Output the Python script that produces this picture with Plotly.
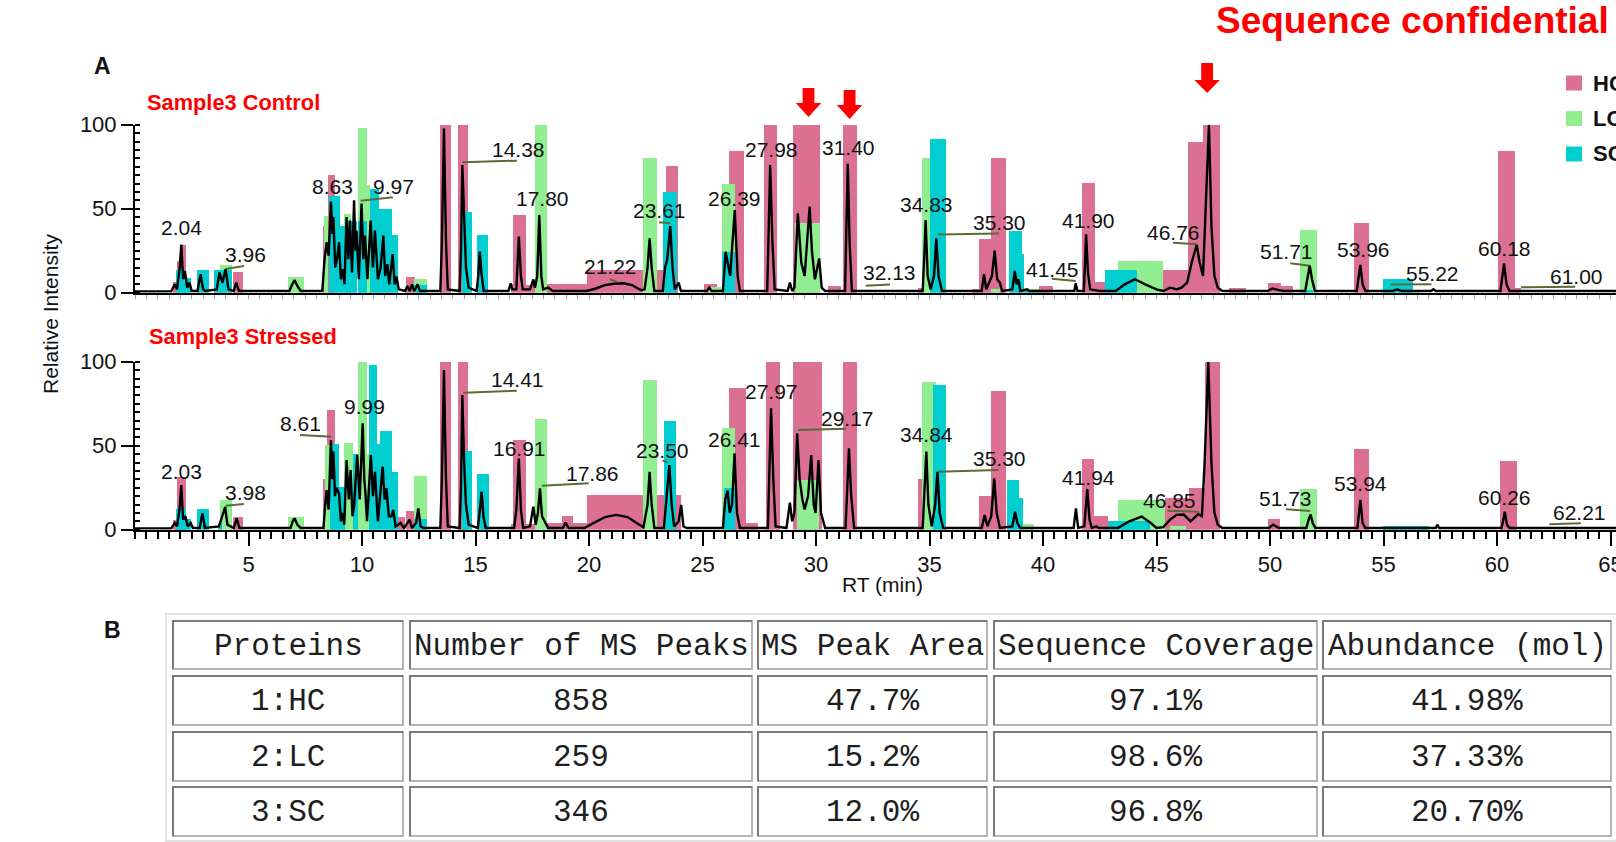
import plotly.graph_objects as go

# ---------------------------------------------------------------- data
# Bars: (start RT, end RT, relative intensity) per protein chain
HC_CONTROL = [(1.68, 1.87, 6.5), (1.87, 2.07, 19), (2.07, 2.26, 28.6), (4.31, 4.75, 12.6),
              (8.26, 8.40, 40), (8.50, 8.82, 70.5), (11.92, 12.35, 9.5), (13.43, 13.90, 100),
              (14.22, 14.68, 100), (16.55, 16.66, 5.5), (16.66, 17.22, 46.2), (17.22, 17.62, 5),
              (18.13, 19.89, 5.6), (19.89, 22.40, 13.9), (22.99, 23.24, 13.9), (23.40, 23.93, 75.8),
              (25.08, 25.66, 5.6), (26.15, 26.81, 84.5), (27.69, 28.27, 100), (28.98, 30.19, 100),
              (30.55, 31.10, 4), (31.18, 31.79, 100), (34.50, 34.75, 3), (36.87, 37.19, 2.5),
              (37.19, 37.70, 32.4), (37.70, 38.37, 80.6), (39.84, 40.43, 4.1), (41.72, 42.29, 65.6),
              (42.29, 42.73, 6.6), (45.30, 46.40, 13.9), (46.40, 47.05, 89.9), (47.05, 47.78, 100),
              (48.20, 48.93, 3.2), (49.89, 50.47, 6.2), (50.47, 51.00, 4.2), (53.72, 54.36, 41.9),
              (60.05, 60.81, 84.5), (60.81, 61.05, 3)]
LC_CONTROL = [(3.76, 4.28, 16.9), (6.75, 7.43, 9.6), (8.33, 8.52, 46), (9.19, 9.50, 46.8),
              (9.84, 10.21, 98.5), (10.21, 10.37, 64), (12.30, 12.85, 8.2), (17.62, 18.13, 100),
              (22.40, 22.99, 80.6), (25.24, 25.86, 3.5), (25.86, 26.41, 65), (29.06, 30.19, 41.9),
              (34.67, 35.03, 80.6), (37.70, 38.10, 2.5), (39.16, 39.84, 2.6), (43.31, 45.30, 18.9),
              (51.30, 52.07, 37.7), (55.30, 56.60, 2)]
SC_CONTROL = [(1.79, 2.26, 13.9), (2.26, 2.47, 9.2), (2.75, 3.26, 13.9), (3.49, 4.28, 13.9),
              (8.53, 9.03, 58), (9.03, 9.24, 40), (9.24, 9.79, 43), (9.84, 10.21, 43),
              (10.37, 10.76, 62), (10.76, 11.31, 50.3), (11.31, 11.59, 34.8), (12.30, 12.85, 4.6),
              (14.42, 14.83, 48), (15.05, 15.53, 34.8), (23.24, 23.86, 60.1), (25.88, 26.41, 24.4),
              (35.03, 35.73, 91.9), (38.50, 39.06, 36.8), (39.06, 39.16, 23), (39.16, 39.84, 1.8),
              (42.73, 44.16, 13.9), (51.40, 51.90, 1.5), (54.96, 56.32, 8.2)]

HC_STRESSED = [(1.68, 1.87, 5.7), (1.87, 2.26, 31.5), (4.31, 4.75, 7.8), (8.27, 8.41, 30.2),
               (8.44, 8.82, 71.2), (11.60, 11.90, 7.7), (11.92, 12.29, 11.1), (13.43, 13.90, 100),
               (14.22, 14.68, 100), (16.55, 16.66, 3.8), (16.66, 17.22, 53.4), (17.22, 17.62, 3.8),
               (18.13, 18.79, 4.2), (18.79, 19.30, 8.4), (19.30, 19.89, 4.2), (19.89, 22.40, 21.0),
               (22.99, 24.05, 21.0), (26.15, 26.92, 84.7), (26.92, 27.44, 4.2), (27.81, 28.41, 100),
               (28.98, 30.27, 100), (31.18, 31.79, 100), (34.51, 34.67, 30.5), (37.19, 37.70, 20.2),
               (37.70, 38.37, 83), (41.70, 42.26, 42.3), (42.26, 42.88, 8.2), (45.37, 46.45, 19.3),
               (46.45, 47.14, 25.2), (47.14, 47.80, 100), (49.89, 50.44, 6.8), (53.72, 54.36, 48.4),
               (60.12, 60.86, 41.1)]
LC_STRESSED = [(3.76, 4.28, 17.7), (6.75, 7.43, 7.8), (8.38, 8.59, 50.4), (9.21, 9.62, 52),
               (9.84, 10.20, 100), (10.20, 10.31, 45.5), (12.29, 12.85, 32.1), (17.62, 18.13, 66.3),
               (22.40, 22.99, 89.1), (25.86, 26.41, 60.9), (29.17, 30.11, 29.5), (34.67, 35.27, 88.1),
               (39.13, 39.60, 3.8), (43.31, 45.37, 18.1), (45.60, 46.30, 2.5), (51.30, 52.07, 24.2)]
SC_STRESSED = [(1.79, 2.26, 12.7), (2.26, 2.47, 6.8), (2.75, 3.26, 12.7), (3.65, 3.84, 4.2),
               (8.59, 9.00, 51.4), (9.00, 9.25, 25.6), (9.62, 9.84, 45.5), (10.31, 10.67, 98.4),
               (10.67, 10.79, 51.4), (10.79, 11.31, 58.7), (11.31, 11.60, 34.5), (12.29, 12.85, 6.7),
               (14.42, 14.83, 47), (15.05, 15.61, 33.5), (23.32, 23.85, 64.9), (25.94, 26.41, 25.2),
               (35.14, 35.73, 86.1), (38.43, 38.93, 30), (38.93, 39.13, 19.3), (42.88, 44.71, 5.4),
               (54.96, 57.02, 2.2)]

# Chromatogram traces (RT, relative intensity)
CONTROL_RT = [0.0, 1.6, 1.75, 1.85, 1.97, 2.04, 2.12, 2.2, 2.3, 2.4, 2.5, 2.75, 2.89, 3.0, 3.1, 3.6,
              3.72, 3.85, 3.99, 4.12, 4.35, 4.46, 4.58, 6.8, 6.93, 7.03, 7.15, 7.3, 8.25, 8.35, 8.44,
              8.53, 8.63, 8.70, 8.74, 8.82, 8.9, 8.99, 9.07, 9.15, 9.23, 9.32, 9.40, 9.47, 9.56, 9.65,
              9.71, 9.76, 9.86, 9.98, 10.06, 10.13, 10.24, 10.38, 10.48, 10.57, 10.7, 10.82, 10.94,
              11.02, 11.12, 11.2, 11.35, 11.44, 11.52, 11.62, 11.9, 12.0, 12.1, 12.2, 12.3, 12.45,
              12.55, 13.45, 13.52, 13.61, 13.7, 13.78, 14.3, 14.36, 14.42, 14.5, 14.58, 14.7, 15.05,
              15.12, 15.19, 15.26, 15.36, 16.45, 16.55, 16.62, 16.8, 16.91, 17.0, 17.08, 17.4, 17.55,
              17.62, 17.72, 17.81, 17.9, 17.98, 18.2, 18.4, 19.9, 20.3, 20.7, 21.1, 21.5, 21.9, 22.3,
              22.45, 22.58, 22.67, 22.76, 22.88, 23.25, 23.35, 23.45, 23.58, 23.68, 23.78, 23.95,
              24.05, 25.2, 25.3, 25.4, 25.9, 26.02, 26.12, 26.22, 26.42, 26.55, 26.65, 27.85, 27.92,
              27.98, 28.08, 28.18, 28.75, 28.85, 28.95, 29.05, 29.2, 29.35, 29.5, 29.6, 29.72, 29.82,
              29.95, 30.14, 30.25, 30.4, 31.28, 31.34, 31.40, 31.48, 31.58, 32.5, 34.7, 34.78, 34.83,
              34.92, 35.05, 35.2, 35.3, 35.4, 35.55, 37.3, 37.4, 37.5, 37.75, 37.87, 37.98, 38.1,
              38.2, 38.65, 38.76, 38.84, 38.92, 39.0, 39.3, 39.4, 41.38, 41.44, 41.52, 41.8, 41.9,
              41.98, 42.08, 42.5, 43.2, 43.6, 44.05, 44.5, 45.0, 45.3, 45.6, 45.9, 46.1, 46.35, 46.55,
              46.77, 46.9, 47.05, 47.18, 47.31, 47.42, 47.55, 47.7, 47.9, 49.9, 50.1, 50.4, 50.6,
              51.55, 51.65, 51.75, 51.85, 51.98, 53.82, 53.9, 53.98, 54.08, 54.2, 55.4, 55.6, 55.8,
              57.1, 57.2, 57.3, 60.15, 60.25, 60.31, 60.42, 60.55, 65.3]
CONTROL_INT = [0.8, 0.8, 5, 2, 15, 28.6, 8, 13, 3, 6, 1, 1, 11, 2, 1, 2,
               12, 6, 14, 2, 1, 6, 1, 1, 5, 7.5, 4, 1, 1, 20, 30,
               22, 54.3, 35, 45, 15, 20, 30, 8, 14, 5, 45, 20, 43, 12, 55,
               25, 37, 8, 53, 20, 34, 8, 43, 15, 37, 8, 15, 34,
               10, 17, 5, 23, 5, 9.5, 2, 1, 4, 1, 5, 1, 5,
               1, 1, 30, 97.8, 30, 2, 1, 25, 76, 40, 15, 3, 1,
               10, 24.4, 12, 1, 1, 5.5, 2, 2, 33.4, 10, 2, 2, 7.9,
               3, 10, 46.2, 10, 2, 3, 1, 1, 2.5, 4.5, 5.3, 5.6, 4.5, 1.5,
               2, 15, 32.4, 15, 1, 1, 15, 20, 39.7, 15, 2, 6,
               1, 1, 3, 1, 1, 24.4, 16, 10, 49.2, 10, 1, 1, 40,
               76, 30, 2, 1, 6, 1, 3, 47.2, 18, 10, 30, 51.2, 25,
               8, 20.4, 3, 1, 1, 40, 76.8, 30, 1, 1, 1, 25, 43.3,
               10, 2, 10, 32.4, 10, 1, 1, 11, 2, 10, 25, 8, 6,
               1, 2, 13, 5, 8, 1, 2, 1, 1, 5.6, 1, 1, 34.7,
               12, 2, 1, 1, 5, 8, 5, 2, 1, 3, 2, 3, 6, 18,
               28.4, 18, 10, 60, 100, 40, 10, 3, 1, 1, 2.5, 1.5, 1,
               1, 10, 16.1, 8, 1, 1, 10, 16.5, 5, 1, 1, 2, 1,
               1, 2, 1, 1, 10, 17.4, 5, 1, 1]

STRESSED_RT = [0.0, 1.6, 1.75, 1.85, 1.96, 2.04, 2.12, 2.22, 2.32, 2.45, 2.55, 2.85, 2.97, 3.08, 3.7,
               3.85, 3.97, 4.07, 4.35, 4.48, 4.6, 6.85, 6.95, 7.03, 7.15, 7.3, 8.3, 8.38, 8.44, 8.53,
               8.63, 8.69, 8.74, 8.81, 8.87, 8.99, 9.07, 9.15, 9.22, 9.32, 9.42, 9.5, 9.58, 9.65, 9.79,
               9.9, 10.03, 10.1, 10.15, 10.22, 10.39, 10.48, 10.57, 10.7, 10.8, 10.91, 11.0, 11.08,
               11.18, 11.3, 11.38, 11.48, 11.7, 11.85, 12.1, 12.2, 12.38, 12.48, 12.58, 12.7, 13.45,
               13.52, 13.61, 13.7, 13.78, 14.3, 14.36, 14.42, 14.5, 14.58, 14.7, 15.1, 15.18, 15.27,
               15.35, 15.45, 16.7, 16.8, 16.91, 17.0, 17.1, 17.4, 17.55, 17.65, 17.75, 17.84, 17.93,
               18.05, 18.2, 18.85, 18.97, 19.1, 19.8, 20.2, 20.7, 21.2, 21.7, 22.1, 22.4, 22.58, 22.67,
               22.76, 22.88, 23.3, 23.42, 23.54, 23.64, 23.75, 23.95, 24.06, 24.16, 24.3, 25.9, 26.0,
               26.1, 26.2, 26.3, 26.41, 26.52, 26.65, 27.88, 27.95, 28.02, 28.12, 28.22, 28.7, 28.85,
               28.95, 29.05, 29.17, 29.28, 29.4, 29.5, 29.65, 29.79, 29.9, 29.98, 30.11, 30.22, 30.4,
               31.3, 31.38, 31.45, 31.55, 31.68, 34.7, 34.79, 34.86, 34.95, 35.1, 35.25, 35.35, 35.45,
               35.6, 37.3, 37.43, 37.55, 37.72, 37.85, 37.96, 38.1, 38.65, 38.77, 38.87, 39.0, 41.35,
               41.45, 41.55, 41.82, 41.95, 42.05, 42.15, 42.35, 42.45, 43.3, 43.8, 44.35, 44.75, 45.0,
               45.3, 45.6, 45.88, 46.2, 46.5, 46.84, 47.0, 47.12, 47.28, 47.42, 47.55, 47.7, 47.9,
               49.95, 50.14, 50.4, 51.6, 51.7, 51.79, 51.88, 52.0, 53.85, 53.92, 53.98, 54.08, 54.2,
               57.3, 57.37, 57.45, 60.2, 60.28, 60.34, 60.44, 60.55, 65.3]
STRESSED_INT = [0.8, 0.8, 4, 2, 12, 26.6, 6, 8, 2, 4, 1, 1, 9.7, 1, 2,
                8, 13.5, 3, 1, 6.8, 1, 1, 5, 6.8, 3, 1, 1, 15, 23.6, 12,
                53.4, 30, 46.5, 20, 25, 21.7, 5, 10, 3, 41.5, 18, 35.5, 8, 14, 44.5,
                18, 63.3, 30, 22, 5, 44.5, 20, 34.5, 5, 20, 37.5, 18, 24.6,
                8, 8, 11.7, 2, 4, 1, 6, 1, 4, 12.7, 2, 1, 1,
                30, 95, 30, 2, 1, 25, 80.2, 40, 15, 3, 1, 10, 22.6,
                8, 1, 1, 12, 42.4, 12, 1, 2, 13.7, 3, 10, 24.6, 8,
                5, 1, 1, 4.2, 1, 1, 4, 7.5, 8.8, 7.5, 4, 1.5, 15, 34.5,
                15, 1, 1, 20, 38.5, 15, 2, 5, 14.7, 2, 1, 1, 18,
                23.2, 10, 15, 45.5, 10, 1, 1, 35, 72.3, 30, 2, 1, 16.1,
                5, 10, 57.3, 30, 18, 12, 20, 44.4, 15, 10, 41.5, 10, 1,
                1, 25, 48.4, 20, 1, 1, 25, 46.5, 15, 2, 15, 34.5, 10,
                1, 1, 8.8, 2, 8, 30.6, 10, 1, 2, 10.7, 4, 1, 1,
                12.7, 1, 2, 24.2, 6, 1, 2, 1, 1, 5, 7.8, 4, 1,
                1.5, 6, 8.8, 9, 5, 9.3, 8, 40, 100, 40, 10, 3, 1,
                1, 3, 1, 1, 6, 9.1, 4, 1, 1, 10, 17.7, 4, 1,
                1, 3, 1, 1, 6, 10.7, 3, 1, 1]

# Labelled peak retention times
CONTROL_PEAK_LABELS = ["2.04", "3.96", "8.63", "9.97", "13.60", "14.38", "17.80", "21.22", "23.61",
                       "26.39", "27.98", "31.40", "32.13", "34.83", "35.30", "41.45", "41.90", "46.76",
                       "47.22", "51.71", "53.96", "55.22", "60.18", "61.00"]
STRESSED_PEAK_LABELS = ["2.03", "3.98", "8.61", "9.99", "13.62", "14.41", "16.91", "17.86", "23.50",
                        "26.41", "27.97", "29.17", "34.84", "35.30", "41.94", "46.85", "47.27", "51.73",
                        "53.94", "60.26", "62.21"]
MARKED_PEAKS = [29.67, 31.48, 47.23]

PROTEINS = ["HC", "LC", "SC"]
TABLE_HEADER = ["Proteins", "Number of MS Peaks", "MS Peak Area", "Sequence Coverage", "Abundance (mol)"]
TABLE_ROWS = [["1:HC", "858", "47.7%", "97.1%", "41.98%"],
              ["2:LC", "259", "15.2%", "98.6%", "37.33%"],
              ["3:SC", "346", "12.0%", "96.8%", "20.70%"]]

# ---------------------------------------------------------------- layout helpers
W, H = 1616, 842
X0_PX, PX_PER_MIN = 135, 22.7
X_MAX = (W - X0_PX) / PX_PER_MIN
COLORS = {"HC": "#DB7093", "LC": "#90EE90", "SC": "#00CED1"}
SANS = "Liberation Sans, Arial, sans-serif"
MONO = "Liberation Mono, Courier New, monospace"
LEADER = "#5B6B35"


def fx(p):
    return p / W


def fy(p):
    return 1 - p / H


# label placements (RT, intensity) in each panel
CONTROL_LABEL_POS = [(2.04, 38.6), (4.86, 22.7), (8.72, 63.2), (11.4, 63.2), (13.76, 107.4),
                     (16.89, 85.3), (17.93, 55.8), (20.93, 15.4), (23.11, 49.1), (26.42, 55.8),
                     (28.06, 85.3), (31.42, 86.5), (33.23, 12.3), (34.87, 52.7), (38.09, 41.7),
                     (40.4, 14.1), (42.0, 43.0), (45.77, 35.6), (47.31, 110.4), (50.71, 24.5),
                     (54.12, 25.8), (57.16, 11.7), (60.34, 26.4), (63.52, 9.8)]
STRESSED_LABEL_POS = [(2.04, 34.9), (4.86, 22.1), (7.31, 63.2), (10.12, 73.6), (13.76, 104.3),
                      (16.84, 89.5), (16.93, 48.5), (20.16, 33.7), (23.25, 47.2), (26.42, 53.4),
                      (28.06, 82.2), (31.37, 66.3), (34.87, 56.4), (38.09, 42.3), (42.0, 31.3),
                      (45.58, 17.1), (47.31, 111.0), (50.67, 18.4), (53.98, 27.6), (60.34, 19.0),
                      (63.65, 10.4)]
CONTROL_LEADERS = [(3.99, 14.1, 4.80, 15.9), (9.94, 54.8, 11.36, 56.8), (14.43, 77.6, 16.82, 78.6),
                   (20.91, 8.0, 21.22, 6.6), (23.08, 41.9, 23.58, 41.3), (32.19, 4.1, 33.26, 4.9),
                   (35.38, 34.7, 38.05, 35.3), (40.39, 8.3, 41.44, 7.0), (45.73, 29.8, 46.8, 28.8),
                   (50.89, 17.5, 51.75, 16.1), (55.31, 4.9, 57.11, 5.1), (61.06, 3.2, 63.44, 3.6)]
STRESSED_LEADERS = [(3.99, 14.3, 4.80, 15.3), (7.27, 56.4, 8.65, 55.4), (14.46, 81.5, 16.82, 82.7),
                    (17.92, 26.2, 19.99, 27.6), (23.24, 41.2, 23.46, 40.2), (29.20, 59.3, 31.32, 60.1),
                    (35.38, 34.5, 38.05, 35.5), (45.49, 11.3, 46.86, 10.7), (50.71, 12.1, 51.77, 11.1),
                    (62.31, 3.2, 63.69, 3.8)]

fig = go.Figure()

panels = [
    ("x2", "y2", {"HC": HC_CONTROL, "LC": LC_CONTROL, "SC": SC_CONTROL},
     CONTROL_RT, CONTROL_INT, CONTROL_LEADERS),
    ("x", "y", {"HC": HC_STRESSED, "LC": LC_STRESSED, "SC": SC_STRESSED},
     STRESSED_RT, STRESSED_INT, STRESSED_LEADERS),
]

for xa, ya, bars, rt, inten, leaders in panels:
    for prot in PROTEINS:
        segs = bars[prot]
        fig.add_trace(go.Bar(
            x=[(a + b) / 2 for a, b, _ in segs],
            width=[b - a for a, b, _ in segs],
            y=[h for _, _, h in segs],
            marker=dict(color=COLORS[prot], line=dict(width=0)),
            xaxis=xa, yaxis=ya, showlegend=False, hoverinfo="skip"))
    lx, ly = [], []
    for x0, y0, x1, y1 in leaders:
        lx += [x0, x1, None]
        ly += [y0, y1, None]
    fig.add_trace(go.Scatter(x=lx, y=ly, mode="lines", line=dict(color=LEADER, width=2),
                             xaxis=xa, yaxis=ya, showlegend=False, hoverinfo="skip"))
    fig.add_trace(go.Scatter(x=rt, y=inten, mode="lines", line=dict(color="black", width=2.4),
                             xaxis=xa, yaxis=ya, showlegend=False, hoverinfo="skip",
                             cliponaxis=False))

annotations = []
for labels, pos, xa, ya in [(CONTROL_PEAK_LABELS, CONTROL_LABEL_POS, "x2", "y2"),
                            (STRESSED_PEAK_LABELS, STRESSED_LABEL_POS, "x", "y")]:
    for text, (x, y) in zip(labels, pos):
        annotations.append(dict(text=text, x=x, y=y, xref=xa, yref=ya, showarrow=False,
                                font=dict(family=SANS, size=21, color="#111111"),
                                xanchor="center", yanchor="middle"))


def txt(text, x, y, size, color="#111111", bold=False, xanchor="center", family=SANS, angle=0):
    return dict(text=f"<b>{text}</b>" if bold else text, x=fx(x), y=fy(y), xref="paper",
                yref="paper", showarrow=False, xanchor=xanchor, yanchor="middle",
                font=dict(family=family, size=size, color=color), textangle=angle)


annotations += [
    txt("Sequence confidential", 1214, 21, 37, "#FF0000", True, "left"),
    txt("A", 102, 66, 23, "#111111", True),
    txt("B", 112, 630, 23, "#111111", True),
    txt("Sample3 Control", 145, 103, 21.8, "#FF0000", True, "left"),
    txt("Sample3 Stressed", 147, 336, 21.8, "#FF0000", True, "left"),
    txt("Relative Intensity", 50, 314, 21, angle=-90),
    txt("RT (min)", 882, 584, 21),
]

shapes = []
# legend
for i, prot in enumerate(PROTEINS):
    cy = 83 + i * 35.5
    shapes.append(dict(type="rect", xref="paper", yref="paper", x0=fx(1566), x1=fx(1582),
                       y0=fy(cy + 7.5), y1=fy(cy - 7.5), fillcolor=COLORS[prot], line=dict(width=0)))
    annotations.append(txt(prot, 1591, cy, 22, "#111111", True, "left"))

# red arrows over the marked peaks
for rt, (top, neck, tip) in zip(MARKED_PEAKS, [(88, 103, 117), (90, 105, 119), (63, 80, 93)]):
    s, hw = 0.26, 0.56
    path = (f"M {rt - s},{fy(top)} L {rt + s},{fy(top)} L {rt + s},{fy(neck)} "
            f"L {rt + hw},{fy(neck)} L {rt},{fy(tip)} L {rt - hw},{fy(neck)} "
            f"L {rt - s},{fy(neck)} Z")
    shapes.append(dict(type="path", xref="x2", yref="paper", path=path,
                       fillcolor="#FF0000", line=dict(width=0)))

# summary table
col_edges = [(173, 403), (410, 752), (758, 987), (994, 1317), (1323, 1611)]
row_edges = [(621, 669), (676, 725), (732, 781), (787, 836)]
shapes.append(dict(type="rect", xref="paper", yref="paper", x0=fx(166), x1=fx(1625),
                   y0=fy(841), y1=fy(614), line=dict(color="#E2E2E2", width=2)))
for r, (r0, r1) in enumerate(row_edges):
    values = TABLE_HEADER if r == 0 else TABLE_ROWS[r - 1]
    for c, (c0, c1) in enumerate(col_edges):
        shapes.append(dict(type="rect", xref="paper", yref="paper", x0=fx(c0), x1=fx(c1),
                           y0=fy(r1), y1=fy(r0), line=dict(color="#B4B4B4", width=2)))
        shapes.append(dict(type="path", xref="paper", yref="paper",
                           path=f"M {fx(c0)},{fy(r1)} L {fx(c0)},{fy(r0)} L {fx(c1)},{fy(r0)}",
                           line=dict(color="#7A7A7A", width=2)))
        annotations.append(txt(values[c], (c0 + c1) / 2, (r0 + r1) / 2 + 1, 31, "#1E1E1E",
                               family=MONO))

y_common = dict(range=[0, 100], tickvals=[0, 50, 100], ticks="outside", ticklen=12, tickwidth=2,
                tickcolor="black", showline=True, linecolor="black", linewidth=2, showgrid=False,
                zeroline=False, automargin=False,
                tickfont=dict(family=SANS, size=22, color="#111111"),
                minor=dict(ticks="inside", dtick=5, ticklen=5, tickwidth=1.5, tickcolor="black"))
yb = dict(y_common, domain=[fy(529.7), fy(361.7)], anchor="x")
yt = dict(y_common, domain=[fy(292.7), fy(124.7)], anchor="x2")

fig.update_layout(
    width=W, height=H, margin=dict(l=0, r=0, t=0, b=0, pad=0, autoexpand=False),
    paper_bgcolor="white", plot_bgcolor="white",
    barmode="overlay", bargap=0, showlegend=False,
    xaxis=dict(domain=[fx(X0_PX), 1], range=[0, X_MAX], anchor="y", automargin=False,
               tickvals=list(range(5, 70, 5)), ticks="outside", ticklen=14, tickwidth=2,
               tickcolor="black", showline=True, linecolor="black", linewidth=2,
               showgrid=False, zeroline=False, ticklabeloverflow="allow",
               tickfont=dict(family=SANS, size=22, color="#111111"),
               minor=dict(ticks="outside", dtick=0.5, tick0=0, ticklen=7, tickwidth=1.5,
                          tickcolor="black")),
    xaxis2=dict(domain=[fx(X0_PX), 1], range=[0, X_MAX], anchor="y2", matches="x",
                automargin=False, showticklabels=False, ticks="outside", ticklen=4, tickwidth=1,
                tickcolor="#A0A0A0", dtick=0.5, tick0=0, showline=True, linecolor="black",
                linewidth=2, showgrid=False, zeroline=False),
    yaxis=yb, yaxis2=yt,
    annotations=annotations, shapes=shapes,
)

fig.write_html("out.html")
